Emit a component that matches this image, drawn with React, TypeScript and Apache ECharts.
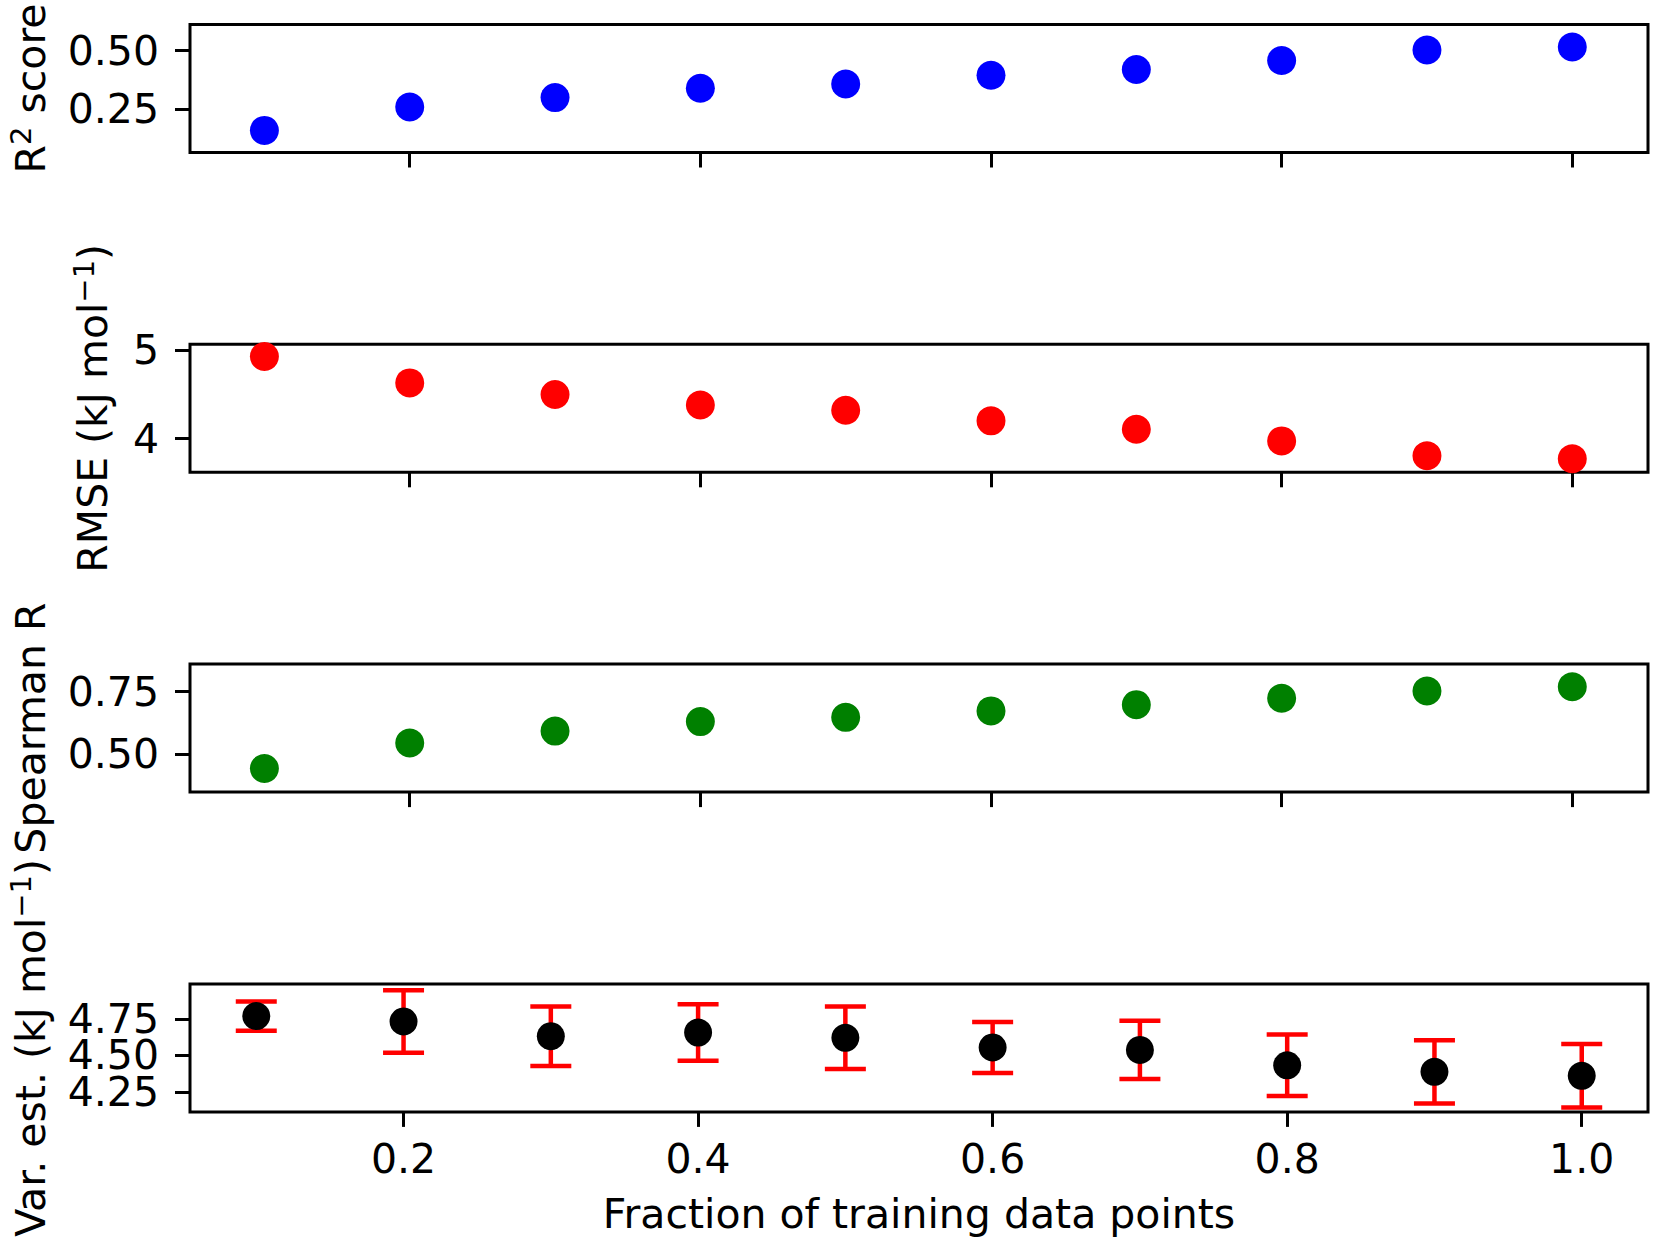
import React, { useEffect, useRef } from 'react';
import * as echarts from 'echarts';

// ---- data ----
const fractions = [0.1, 0.2, 0.3, 0.4, 0.5, 0.6, 0.7, 0.8, 0.9, 1.0];
const r2Scores = [0.16, 0.26, 0.3, 0.34, 0.358, 0.395, 0.42, 0.458, 0.503, 0.516];
const rmseValues = [4.927, 4.629, 4.498, 4.38, 4.32, 4.201, 4.106, 3.975, 3.808, 3.773];
const spearmanValues = [0.442, 0.544, 0.592, 0.63, 0.647, 0.673, 0.698, 0.724, 0.753, 0.77];
const varEstMean = [4.77, 4.733, 4.632, 4.657, 4.621, 4.555, 4.538, 4.433, 4.388, 4.361];
const varEstErr = [0.1, 0.214, 0.204, 0.193, 0.214, 0.174, 0.199, 0.211, 0.217, 0.217];

const xTicks = [0.2, 0.4, 0.6, 0.8, 1.0];
const r2Ticks = [0.25, 0.5];
const rmseTicks = [4, 5];
const spearmanTicks = [0.5, 0.75];
// the var. est. ticks are split over two axes so that ECharts' min/max label overlap check keeps all three
const varTicksOuter = [4.25, 4.75];
const varTicksInner = [4.5];

// ---- layout ----
const W = 1654;
const H = 1244;
const FONT = 'DejaVu Sans';
const FS = 41;
const GRID_LEFT = 190;
const GRID_WIDTH = 1458;
const GRID_H = 128;
const GRID_TOPS = [24.5, 344.3, 664.1, 983.9];

const makeXAxis = (i: number, min: number, max: number, showLabels: boolean) => ({
  type: 'value',
  gridIndex: i,
  min,
  max,
  axisLine: { show: false },
  splitLine: { show: false },
  axisTick: { show: true, length: 15, lineStyle: { color: '#000', width: 3 }, customValues: xTicks },
  axisLabel: {
    show: showLabels,
    customValues: xTicks,
    margin: 27,
    fontSize: FS,
    fontFamily: FONT,
    color: '#000',
    hideOverlap: false,
    formatter: (v: number) => v.toFixed(1),
  },
});

const makeYAxis = (i: number, min: number, max: number, ticks: number[], digits: number) => ({
  type: 'value',
  gridIndex: i,
  position: 'left',
  offset: 0,
  min,
  max,
  axisLine: { show: false },
  splitLine: { show: false },
  axisTick: { show: true, length: 15, lineStyle: { color: '#000', width: 3 }, customValues: ticks },
  axisLabel: {
    show: true,
    customValues: ticks,
    margin: 31,
    fontSize: FS,
    lineHeight: 28,
    fontFamily: FONT,
    color: '#000',
    hideOverlap: false,
    formatter: (v: number) => v.toFixed(digits),
  },
});

const richBase = {
  a: { fontSize: FS, fontFamily: FONT, fill: '#000', lineHeight: 48 },
  s: { fontSize: 29, fontFamily: FONT, fill: '#000', verticalAlign: 'top' },
};

const yLabel = (x: number, y: number, text: string) => ({
  type: 'text',
  x,
  y,
  rotation: Math.PI / 2,
  style: {
    text,
    rich: richBase,
    align: 'center',
    verticalAlign: 'middle',
    fill: '#000',
    fontFamily: FONT,
    fontSize: FS,
  },
});

export default function App() {
  const ref = useRef<HTMLDivElement>(null);

  useEffect(() => {
    if (!ref.current) return;
    const chart = echarts.init(ref.current, null, { renderer: 'svg', width: W, height: H });

    const grids = GRID_TOPS.map((top) => ({
      left: GRID_LEFT,
      top,
      width: GRID_WIDTH,
      height: GRID_H,
      show: true,
      borderColor: '#000',
      borderWidth: 3,
      backgroundColor: 'transparent',
    }));

    const errData = fractions.map((f, i) => [f, varEstMean[i] - varEstErr[i], varEstMean[i] + varEstErr[i]]);

    const option: any = {
      animation: false,
      backgroundColor: '#fff',
      grid: grids,
      xAxis: [
        makeXAxis(0, 0.0488, 1.0521, false),
        makeXAxis(1, 0.0488, 1.0521, false),
        makeXAxis(2, 0.0488, 1.0521, false),
        makeXAxis(3, 0.055, 1.045, true),
      ],
      yAxis: [
        makeYAxis(0, 0.0657, 0.6118, r2Ticks, 2),
        makeYAxis(1, 3.621, 5.064, rmseTicks, 0),
        makeYAxis(2, 0.3471, 0.8608, spearmanTicks, 2),
        makeYAxis(3, 4.114, 4.99, varTicksOuter, 2),
        makeYAxis(3, 4.114, 4.99, varTicksInner, 2),
      ],
      series: [
        {
          type: 'scatter',
          xAxisIndex: 0,
          yAxisIndex: 0,
          symbolSize: 29,
          itemStyle: { color: '#0000ff', opacity: 1 },
          data: fractions.map((f, i) => [f, r2Scores[i]]),
        },
        {
          type: 'scatter',
          xAxisIndex: 1,
          yAxisIndex: 1,
          symbolSize: 29,
          itemStyle: { color: '#ff0000', opacity: 1 },
          data: fractions.map((f, i) => [f, rmseValues[i]]),
        },
        {
          type: 'scatter',
          xAxisIndex: 2,
          yAxisIndex: 2,
          symbolSize: 29,
          itemStyle: { color: '#008000', opacity: 1 },
          data: fractions.map((f, i) => [f, spearmanValues[i]]),
        },
        {
          type: 'custom',
          xAxisIndex: 3,
          yAxisIndex: 3,
          clip: false,
          z: 2,
          encode: { x: 0, y: [1, 2] },
          data: errData,
          renderItem: (params: any, api: any) => {
            const x = api.value(0);
            const lo = api.value(1);
            const hi = api.value(2);
            const pHi = api.coord([x, hi]);
            const pLo = api.coord([x, lo]);
            const cap = 20.5;
            const st = { stroke: '#ff0000', lineWidth: 4.5 };
            return {
              type: 'group',
              children: [
                { type: 'line', shape: { x1: pHi[0], y1: pHi[1], x2: pLo[0], y2: pLo[1] }, style: st },
                { type: 'line', shape: { x1: pHi[0] - cap, y1: pHi[1], x2: pHi[0] + cap, y2: pHi[1] }, style: st },
                { type: 'line', shape: { x1: pLo[0] - cap, y1: pLo[1], x2: pLo[0] + cap, y2: pLo[1] }, style: st },
              ],
            };
          },
        },
        {
          type: 'scatter',
          xAxisIndex: 3,
          yAxisIndex: 3,
          z: 5,
          symbolSize: 28,
          itemStyle: { color: '#000', opacity: 1 },
          data: fractions.map((f, i) => [f, varEstMean[i]]),
        },
      ],
      graphic: [
        yLabel(30.8, GRID_TOPS[0] + GRID_H / 2, '{a|R}{s|2}{a| score}'),
        yLabel(93, GRID_TOPS[1] + GRID_H / 2, '{a|RMSE (kJ mol}{s|\u22121}{a|)}'),
        yLabel(30.8, GRID_TOPS[2] + GRID_H / 2, '{a|Spearman R}'),
        yLabel(30.8, GRID_TOPS[3] + GRID_H / 2, '{a|Var. est. (kJ mol}{s|\u22121}{a|)}'),
        {
          type: 'text',
          x: GRID_LEFT + GRID_WIDTH / 2,
          y: 1214,
          style: {
            text: 'Fraction of training data points',
            fontSize: FS,
            fontFamily: FONT,
            fill: '#000',
            align: 'center',
            verticalAlign: 'middle',
          },
        },
      ],
    };

    chart.setOption(option);
    return () => {
      chart.dispose();
    };
  }, []);

  return (
    <div
      ref={ref}
      style={{ position: 'absolute', left: 0, top: 0, width: W, height: H, background: '#fff' }}
    />
  );
}
